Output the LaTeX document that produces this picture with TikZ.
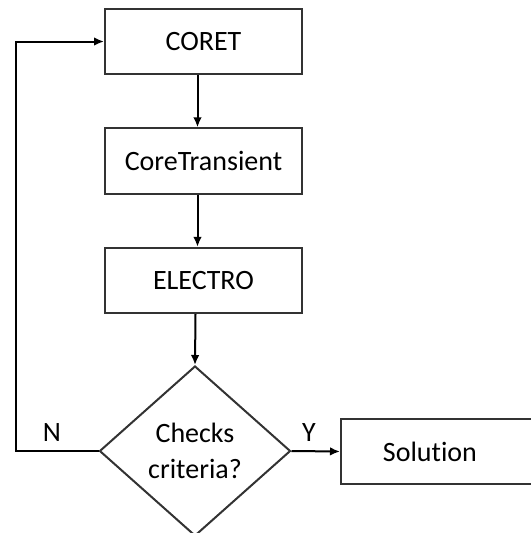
\documentclass[tikz,border=0pt]{standalone}
\usepackage{fontspec}
\setmainfont{Carlito}[Ligatures=NoCommon]
\usetikzlibrary{shapes.geometric,arrows.meta}
\begin{document}
\begin{tikzpicture}[x=0.75pt,y=-0.75pt,
  every node/.style={font=\fontsize{21}{25}\selectfont, text=black},
  box/.style={draw=black!80, line width=1.5pt, rectangle, inner sep=0pt,
    minimum width=147.75pt, minimum height=49pt},
  dec/.style={draw=black!80, line width=1.5pt, diamond, inner sep=0pt,
    minimum width=143.25pt, minimum height=127.5pt, align=center},
  lab/.style={inner sep=0pt},
  conn/.style={line width=1.5pt, -{Latex[length=7.5pt,width=6.5pt]}}]
\useasboundingbox (0,0) rectangle (531,533);
\clip (0,0) rectangle (531,533);
\node[box] (coret) at (203.5,41.5) {CORET};
\node[box] (core) at (203.5,161) {CoreTransient};
\node[box] (electro) at (203.5,280.5) {ELECTRO};
\node[dec] (dia) at (195,451) {Checks\\[1.5pt]criteria?};
\node[box, minimum width=150pt, anchor=west] (sol) at (340,451.5) {};
\node[lab] (soltext) at (430,452) {Solution};
\node[lab] (n) at (52,433) {N};
\node[lab] (y) at (309,433) {Y};
\coordinate (loop) at (16,451);
\draw[conn] ([xshift=-4.5pt]coret.south) -- ([xshift=-4.5pt]core.north);
\draw[conn] ([xshift=-4.5pt]core.south) -- ([xshift=-4.5pt]electro.north);
\draw[conn] ([xshift=-6pt]electro.south) -- (dia.north);
\draw[conn] (dia.east) -- (sol.west);
\draw[conn] (dia.west) -- (loop) |- (coret.west);
\end{tikzpicture}
\end{document}
